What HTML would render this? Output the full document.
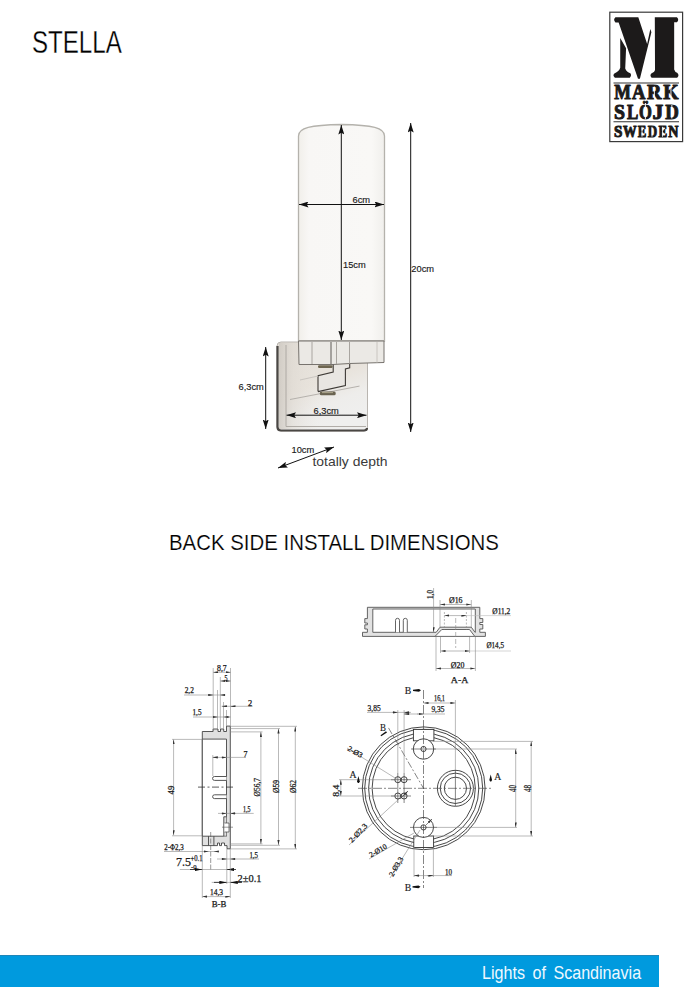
<!DOCTYPE html>
<html><head><meta charset="utf-8">
<style>
html,body{margin:0;padding:0;background:#fff;}
body{width:696px;height:1000px;position:relative;overflow:hidden;font-family:"Liberation Sans",sans-serif;}
.t{position:absolute;white-space:nowrap;line-height:1;transform-origin:0 0;}
#bar{position:absolute;left:0;top:955px;width:659px;height:32px;background:#009ade;border-top:1px solid #1f86b8;box-sizing:border-box;}
svg{position:absolute;left:0;top:0;}
</style></head><body>
<div class="t" id="title" style="left:32px;top:27px;font-size:30.5px;color:#000;transform:scaleX(0.79);-webkit-text-stroke:0.3px #fff;">STELLA</div>
<div class="t" id="back" style="left:169px;top:531px;font-size:22.8px;color:#000;transform:scaleX(0.895);-webkit-text-stroke:0.2px #fff;">BACK SIDE INSTALL DIMENSIONS</div>
<div id="bar"></div>
<div class="t" id="lights" style="left:482px;top:963.5px;font-size:18.5px;color:#eef8ff;transform:scaleX(0.87);word-spacing:3.5px;">Lights of Scandinavia</div>

<svg width="696" height="1000" viewBox="0 0 696 1000">

<defs>
<marker id="ah" viewBox="0 0 10 10" refX="10" refY="5" preserveAspectRatio="none" markerWidth="9.5" markerHeight="6" orient="auto-start-reverse" markerUnits="userSpaceOnUse"><path d="M0,0 L10,5 L0,10 L1.8,5 z" fill="#111"/></marker>
<linearGradient id="glass" x1="0" x2="1" y1="0" y2="0">
<stop offset="0" stop-color="#f1efea"/><stop offset="0.12" stop-color="#f8f7f5"/><stop offset="0.85" stop-color="#f9f8f6"/><stop offset="1" stop-color="#f0efec"/></linearGradient>
<linearGradient id="chrome" x1="0" x2="0.4" y1="0" y2="1">
<stop offset="0" stop-color="#e3ded7"/><stop offset="0.55" stop-color="#e8e3dc"/><stop offset="0.8" stop-color="#eeedeb"/><stop offset="1" stop-color="#efefee"/></linearGradient>
<linearGradient id="lshade" x1="0" x2="1" y1="0" y2="0">
<stop offset="0" stop-color="#cfcac3" stop-opacity="0.9"/><stop offset="0.35" stop-color="#ddd8d1" stop-opacity="0.5"/><stop offset="1" stop-color="#e8e4de" stop-opacity="0"/></linearGradient>
</defs>
<g id="lamp">
<!-- backplate -->
<path d="M281,342 L367.5,342 L367.5,427 Q367.5,431 364,431 L281,431 Q277,431 277,427 L277,346 Q277,342 281,342 z" fill="url(#chrome)" stroke="#b9b5b0" stroke-width="1"/>
<rect x="279" y="343" width="40" height="86" fill="url(#lshade)"/>
<path d="M277.5,346 L277.5,427 Q277.5,430.5 281,430.5 L364,430.5 Q367,430.5 367,428" fill="none" stroke="#4a4744" stroke-width="2.2"/>
<path d="M286,345 L286,426.5 L366,426.5" fill="none" stroke="#a9a59f" stroke-width="0.9"/>
<!-- glass -->
<path d="M298.5,341 L298.5,136 C298.5,128 310,125 341.5,124.5 C373,125 384.5,128 384.5,136 L384.5,341 z" fill="url(#glass)" stroke="#b4b2ac" stroke-width="1.3"/>
<!-- ring -->
<path d="M298.5,341 L384,341 L384,362.5 L349.5,363.5 L333,364.5 L299,364.5 z" fill="#ebe9e5" stroke="#77736e" stroke-width="1"/>
<g stroke="#a9a5a0" stroke-width="1"><line x1="312" y1="342" x2="312" y2="364"/><line x1="331" y1="342" x2="331" y2="364" stroke="#5e5a56"/><line x1="336.5" y1="342" x2="336.5" y2="364"/><line x1="349.5" y1="342" x2="349.5" y2="363"/><line x1="377" y1="342" x2="377" y2="362.5" stroke="#c9c5c0"/></g>
<!-- arm -->
<path d="M318,375.8 L333.2,372 L333.2,365 L349.7,365 L349.7,367.8 L345.4,369 L345.4,385.5 L318,391.6 z" fill="#e9e6e2"/>
<path d="M333.2,364.8 L333.2,372 L318,375.8 L318,391.6 M349.7,364 L349.7,367.8 L345.4,369 L345.4,385.5 L318,391.6" fill="none" stroke="#3e3a36" stroke-width="1.1"/>
<path d="M290,399.5 L359.5,386.1" fill="none" stroke="#b5b1ac" stroke-width="1"/>
<path d="M300,380 L318,376" fill="none" stroke="#c9c5c0" stroke-width="1"/>
<rect x="318" y="365.2" width="14.6" height="2.8" rx="1.2" fill="#6e6650"/>
<rect x="319.8" y="391.6" width="15.9" height="3.7" rx="1.5" fill="#6a6350"/>
<path d="M322,392.6 L333,392.6" stroke="#bdb59a" stroke-width="0.8"/>
</g>
<g id="dims" fill="none" stroke="#111" stroke-width="1">
<line x1="341.3" y1="125" x2="341.3" y2="340" marker-start="url(#ah)" marker-end="url(#ah)"/>
<line x1="299" y1="204.5" x2="384" y2="204.5" marker-start="url(#ah)" marker-end="url(#ah)"/>
<line x1="410.7" y1="123" x2="410.7" y2="432" marker-start="url(#ah)" marker-end="url(#ah)"/>
<line x1="265.7" y1="347" x2="265.7" y2="429" marker-start="url(#ah)" marker-end="url(#ah)"/>
<line x1="286.5" y1="415.2" x2="366.5" y2="415.2" marker-start="url(#ah)" marker-end="url(#ah)"/>
<line x1="278" y1="468" x2="334" y2="447" marker-start="url(#ah)" marker-end="url(#ah)"/>
</g>
<g font-family="Liberation Sans" fill="#1a1a1a" font-size="9.3" stroke="#1a1a1a" stroke-width="0.15">
<text x="352.5" y="203.3">6cm</text>
<text x="343" y="268.3">15cm</text>
<text x="411.3" y="272">20cm</text>
<text x="238.5" y="389.5">6,3cm</text>
<text x="313.5" y="413.5">6,3cm</text>
<text x="291.5" y="453.3">10cm</text>
<text x="312.5" y="466" font-size="13.3" fill="#3a3a3a" stroke="none" lengthAdjust="spacingAndGlyphs" textLength="75">totally depth</text>
</g>

<defs>
<marker id="ba" viewBox="0 0 10 10" refX="10" refY="5" preserveAspectRatio="none" markerWidth="7.5" markerHeight="3.2" orient="auto-start-reverse" markerUnits="userSpaceOnUse"><path d="M0,0 L10,5 L0,10 z" fill="#111"/></marker>
<marker id="sa" viewBox="0 0 10 10" refX="10" refY="5" preserveAspectRatio="none" markerWidth="5" markerHeight="2.2" orient="auto-start-reverse" markerUnits="userSpaceOnUse"><path d="M0,0 L10,5 L0,10 z" fill="#333"/></marker>
</defs>
<!-- ===== A-A section ===== -->
<g id="aa">
<g stroke="#555" stroke-width="0.9" fill="#e2e2e2">
<path d="M367.4,607.3 L479.8,607.3 L479.8,618.6 L482.8,618.6 L482.8,622.5 L479.8,622.5 L479.8,624.5 L482.8,624.5 L482.8,629 L479.8,629 L479.8,632.3 L485.4,632.3 L485.4,636.4 L474.8,636.4 L469.5,629.5 L441.8,629.5 L435,636.4 L362.5,636.4 L362.5,632.3 L367.4,632.3 L367.4,629 L364.8,629 L364.8,624.8 L367.4,624.8 L367.4,623 L364.8,623 L364.8,618.6 L367.4,618.6 z"/>
<path d="M372.8,609 L475.3,609 L475.3,632.3 L475,632.3 L471.3,627.2 L440,627.2 L436.2,632.3 L372.8,632.3 z" fill="#fff"/>
<path d="M435,636.4 L474.8,636.4" fill="none"/>
<path d="M395.5,632.3 L395.5,620.3 A2,2 0 0 1 399.5,620.3 L399.5,632.3 M403.3,632.3 L403.3,620.3 A2,2 0 0 1 407.3,620.3 L407.3,632.3" fill="#fff"/>
</g>
<g stroke="#8a8a8a" stroke-width="0.6" fill="none">
<line x1="440" y1="604.5" x2="471.3" y2="604.5" marker-start="url(#sa)" marker-end="url(#sa)"/>
<line x1="440" y1="600" x2="440" y2="627"/><line x1="471.3" y1="600" x2="471.3" y2="627"/>
<line x1="444.4" y1="615.6" x2="466.4" y2="615.6" marker-start="url(#sa)" marker-end="url(#sa)"/>
<line x1="466.4" y1="615.6" x2="511" y2="615.6" stroke="#bbb"/>
<line x1="444.4" y1="612" x2="444.4" y2="630" stroke-dasharray="2,1.5"/><line x1="466.4" y1="612" x2="466.4" y2="630" stroke-dasharray="2,1.5"/>
<line x1="455.7" y1="618" x2="455.7" y2="648" stroke-dasharray="5,2"/>
<line x1="440.5" y1="651" x2="469.6" y2="651" marker-start="url(#sa)" marker-end="url(#sa)"/>
<line x1="469.6" y1="651" x2="511" y2="651" stroke="#bbb"/>
<line x1="440.5" y1="637" x2="440.5" y2="653"/><line x1="469.6" y1="637" x2="469.6" y2="653"/>
<line x1="436" y1="668.5" x2="475.4" y2="668.5" marker-start="url(#sa)" marker-end="url(#sa)"/>
<line x1="436" y1="637" x2="436" y2="671"/><line x1="475.4" y1="637" x2="475.4" y2="671"/>
<line x1="433.6" y1="588" x2="433.6" y2="632.3" marker-end="url(#sa)"/>
</g>
<g font-family="Liberation Serif" fill="#1a1a1a" font-size="7.5" stroke="#1a1a1a" stroke-width="0.25">
<text transform="translate(432.5,599) rotate(-90)" lengthAdjust="spacingAndGlyphs" textLength="9">1,0</text>
<text x="449" y="603" lengthAdjust="spacingAndGlyphs" textLength="13.5">Ø16</text>
<text x="492.3" y="614" lengthAdjust="spacingAndGlyphs" textLength="18">Ø11,2</text>
<text x="486.4" y="648" lengthAdjust="spacingAndGlyphs" textLength="17.6">Ø14,5</text>
<text x="450.8" y="667.8" lengthAdjust="spacingAndGlyphs" textLength="13.6">Ø20</text>
<text x="450.8" y="682.9" font-size="8.5" lengthAdjust="spacingAndGlyphs" textLength="17.5">A-A</text>
</g>
</g>

<!-- ===== B-B section ===== -->
<g id="bb">
<g stroke="#444" stroke-width="0.9" fill="#e0e0e0">
<!-- outer body -->
<path d="M202.3,731.5 L213.1,731.5 L213.1,729 L218,729 L218,731.5 L220.5,731.5 L220.5,729 L223.7,729 L223.7,731.5 L226.5,731.5 L226.5,726.1 L230.3,726.1 L230.3,848.8 L227,848.8 L227,845.6 L224.5,845.6 L224.5,843 L221.5,843 L221.5,845.6 L219.5,845.6 L219.5,843 L217.5,843 L217.5,845.6 L202.3,845.6 z"/>
<!-- inner cavity -->
<path d="M202.3,739.1 L226.5,739.1 L226.5,816.8 L223.8,816.8 L223.8,836.2 L202.3,836.2 z" fill="#fff"/>
<path d="M226.5,816.8 L226.5,836 M223.8,836.2 L227,836.2" fill="none" stroke-width="0.6"/>
<path d="M208.5,836.2 L208.5,845.6 M213.9,836.2 L213.9,845.6" fill="none"/>
<path d="M224.5,823 L229,823 L229,832 L224.5,832" fill="#fff" stroke-width="0.7"/>
<!-- pins -->
<path d="M226.5,776.5 L214.5,776.5 A1.95,1.95 0 0 0 214.5,780.4 L226.5,780.4 M226.5,794.8 L214.5,794.8 A1.9,1.9 0 0 0 214.5,798.6 L226.5,798.6" fill="#fff"/>
</g>
<g stroke="#555" stroke-width="0.6" fill="none">
<line x1="198" y1="787.1" x2="234.6" y2="787.1" stroke-dasharray="7,2.5,2,2.5" stroke="#333" stroke-width="0.8"/>
<line x1="210.7" y1="832" x2="210.7" y2="871" stroke-dasharray="5,1.5"/>
<line x1="222" y1="827.2" x2="233" y2="827.2"/>
</g>
<g stroke="#8a8a8a" stroke-width="0.6" fill="none">
<!-- top ext lines -->
<line x1="213.2" y1="668" x2="213.2" y2="731"/><line x1="217.5" y1="690" x2="217.5" y2="729"/><line x1="220.3" y1="677" x2="220.3" y2="729"/>
<line x1="223.5" y1="702" x2="223.5" y2="729"/><line x1="226.5" y1="710" x2="226.5" y2="726"/><line x1="230.5" y1="668" x2="230.5" y2="726"/>
<line x1="213.2" y1="672.3" x2="230.6" y2="672.3" marker-start="url(#sa)" marker-end="url(#sa)"/>
<line x1="220.3" y1="681" x2="230.6" y2="681" marker-start="url(#sa)" marker-end="url(#sa)"/>
<line x1="184" y1="695" x2="225.5" y2="695"/>
<line x1="209" y1="695" x2="213.2" y2="695" marker-end="url(#sa)"/><line x1="225" y1="695" x2="220.3" y2="695" marker-end="url(#sa)"/>
<line x1="221.6" y1="706.3" x2="252.6" y2="706.3"/>
<line x1="222" y1="706.3" x2="226.5" y2="706.3" marker-start="url(#sa)"/><line x1="235" y1="706.3" x2="230.5" y2="706.3" marker-end="url(#sa)"/>
<line x1="193" y1="717" x2="230.6" y2="717"/>
<line x1="213" y1="717" x2="217.5" y2="717" marker-end="url(#sa)"/><line x1="230" y1="717" x2="223.5" y2="717" marker-end="url(#sa)"/>
<!-- 7 -->
<line x1="212.8" y1="757.4" x2="246" y2="757.4"/>
<line x1="218" y1="757.4" x2="212.8" y2="757.4" marker-end="url(#sa)"/><line x1="221" y1="757.4" x2="226.5" y2="757.4" marker-end="url(#sa)"/>
<line x1="212.8" y1="755" x2="212.8" y2="776"/>
<!-- 49 -->
<line x1="173.6" y1="739.4" x2="173.6" y2="835.3" marker-start="url(#sa)" marker-end="url(#sa)"/>
<line x1="172" y1="739.4" x2="202" y2="739.4"/><line x1="172" y1="835.8" x2="202" y2="835.8"/>
<!-- 1,5 mid -->
<line x1="218" y1="813.4" x2="253.7" y2="813.4"/>
<line x1="221" y1="813.4" x2="226.5" y2="813.4" marker-end="url(#sa)"/><line x1="236" y1="813.4" x2="230.3" y2="813.4" marker-end="url(#sa)"/>
<!-- diameters -->
<line x1="260.9" y1="731.9" x2="260.9" y2="843.9" marker-start="url(#sa)" marker-end="url(#sa)"/>
<line x1="278.5" y1="728.6" x2="278.5" y2="845" marker-start="url(#sa)" marker-end="url(#sa)"/>
<line x1="295.3" y1="726.5" x2="295.3" y2="848.9" marker-start="url(#sa)" marker-end="url(#sa)"/>
<line x1="230.3" y1="726.3" x2="297" y2="726.3"/><line x1="230.3" y1="728.6" x2="280" y2="728.6"/><line x1="230.3" y1="731.9" x2="262.5" y2="731.9"/>
<line x1="230.3" y1="843.9" x2="262.5" y2="843.9"/><line x1="230.3" y1="845.3" x2="280" y2="845.3"/><line x1="230.3" y1="848.9" x2="297" y2="848.9"/>
<!-- bottom -->
<line x1="164" y1="851.5" x2="218" y2="851.5"/>
<line x1="204" y1="851.5" x2="208.5" y2="851.5" marker-end="url(#sa)"/><line x1="218" y1="851.5" x2="213.9" y2="851.5" marker-end="url(#sa)"/>
<line x1="217" y1="859" x2="259" y2="859"/>
<line x1="221" y1="859" x2="226.8" y2="859" marker-end="url(#sa)"/><line x1="236" y1="859" x2="230.3" y2="859" marker-end="url(#sa)"/>
<line x1="179.8" y1="869.5" x2="234" y2="869.5"/>
<line x1="190" y1="869.5" x2="202.3" y2="869.5" marker-end="url(#ba)" stroke="#222" stroke-width="0.8"/><line x1="236" y1="869.5" x2="226.8" y2="869.5" marker-end="url(#ba)" stroke="#222" stroke-width="0.8"/>
<line x1="211.7" y1="882.4" x2="241" y2="882.4"/>
<line x1="214" y1="882.4" x2="226.8" y2="882.4" marker-end="url(#ba)" stroke="#222" stroke-width="0.8"/><line x1="242" y1="882.4" x2="230.3" y2="882.4" marker-end="url(#ba)" stroke="#222" stroke-width="0.8"/>
<line x1="202.3" y1="896.6" x2="230.3" y2="896.6" marker-start="url(#sa)" marker-end="url(#sa)"/>
<line x1="202.3" y1="846" x2="202.3" y2="898"/><line x1="226.8" y1="849" x2="226.8" y2="884"/><line x1="230.3" y1="849" x2="230.3" y2="898"/>
</g>
<g font-family="Liberation Serif" fill="#1a1a1a" font-size="7.5" stroke="#1a1a1a" stroke-width="0.25">
<text x="217" y="671" lengthAdjust="spacingAndGlyphs" textLength="9.7">8,7</text>
<text x="224.6" y="680.7" lengthAdjust="spacingAndGlyphs" textLength="3">5</text>
<text x="184.7" y="693.4" lengthAdjust="spacingAndGlyphs" textLength="9.2">2,2</text>
<text x="248" y="706" lengthAdjust="spacingAndGlyphs" textLength="4.2">2</text>
<text x="192.5" y="715.4" lengthAdjust="spacingAndGlyphs" textLength="9">1,5</text>
<text x="243.5" y="756.6" lengthAdjust="spacingAndGlyphs" textLength="4">7</text>
<text transform="translate(173.5,794.4) rotate(-90)" lengthAdjust="spacingAndGlyphs" textLength="8.7">49</text>
<text x="243" y="811.6" lengthAdjust="spacingAndGlyphs" textLength="7.5">1,5</text>
<text transform="translate(259.8,796.5) rotate(-90)" lengthAdjust="spacingAndGlyphs" textLength="18.5">Ø56,7</text>
<text transform="translate(278.5,793) rotate(-90)" lengthAdjust="spacingAndGlyphs" textLength="13">Ø59</text>
<text transform="translate(295.5,793) rotate(-90)" lengthAdjust="spacingAndGlyphs" textLength="13">Ø62</text>
<text x="164.3" y="850.4" lengthAdjust="spacingAndGlyphs" textLength="19.4">2-Φ2,3</text>
<text x="249.4" y="858" lengthAdjust="spacingAndGlyphs" textLength="8.6">1,5</text>
<text x="176" y="866" font-size="12" lengthAdjust="spacingAndGlyphs" textLength="15">7.5</text>
<text x="190.5" y="861" font-size="7.5" lengthAdjust="spacingAndGlyphs" textLength="12">+0.1</text>
<text x="191" y="868.7" font-size="7" lengthAdjust="spacingAndGlyphs" textLength="5.5">-0</text>
<text x="237.6" y="882" font-size="11" lengthAdjust="spacingAndGlyphs" textLength="24">2±0.1</text>
<text x="210" y="894.8" lengthAdjust="spacingAndGlyphs" textLength="13">14,3</text>
<text x="211.7" y="906.9" font-size="8.5" lengthAdjust="spacingAndGlyphs" textLength="14.7">B-B</text>
</g>
</g>

<!-- ===== Circle view ===== -->
<g id="cv">
<g stroke="#333" stroke-width="0.9" fill="none">
<circle cx="423.7" cy="788.3" r="61.4"/>
<circle cx="423.7" cy="788.3" r="59"/>
<circle cx="423.7" cy="788.3" r="55.1"/>
<circle cx="423.7" cy="788.3" r="51.6"/>
<rect x="413.4" y="729.4" width="20.5" height="11.4" fill="#fff"/>
<rect x="413.8" y="836" width="19.8" height="11.5" fill="#fff"/>
<circle cx="423.5" cy="749" r="10.2" fill="#fff"/>
<circle cx="423.5" cy="749" r="2.6"/>
<circle cx="423.5" cy="827.4" r="10" fill="#fff"/>
<circle cx="423.5" cy="827.4" r="2.6"/>
<circle cx="455.4" cy="788.3" r="18"/>
<circle cx="455.4" cy="788.3" r="15.2"/>
<circle cx="455.4" cy="788.3" r="11.1"/>
<circle cx="397.8" cy="779.7" r="3"/><circle cx="404.1" cy="779.7" r="3"/>
<circle cx="397.8" cy="796" r="3"/><circle cx="404.1" cy="796" r="3"/>
</g>
<g stroke="#333" stroke-width="0.6" fill="none">
<line x1="358" y1="788.3" x2="491.3" y2="788.3" stroke-dasharray="9,2,2,2"/>
<line x1="423.5" y1="690" x2="423.5" y2="888" stroke-dasharray="9,2,2,2"/>
<line x1="388.5" y1="727.9" x2="423.5" y2="788.3" stroke-dasharray="7,2,2,2"/>
<line x1="391" y1="779.7" x2="411" y2="779.7"/><line x1="391" y1="796" x2="411" y2="796"/>
<line x1="397.8" y1="773" x2="397.8" y2="803"/><line x1="404.1" y1="773" x2="404.1" y2="803"/>
<line x1="411" y1="749" x2="436" y2="749"/><line x1="410" y1="827.4" x2="437" y2="827.4"/>
<line x1="455.4" y1="770" x2="455.4" y2="806"/>
</g>
<g stroke="#8a8a8a" stroke-width="0.6" fill="none">
<line x1="367" y1="712.4" x2="411" y2="712.4"/>
<line x1="392" y1="712.4" x2="397.8" y2="712.4" marker-end="url(#sa)"/><line x1="410" y1="712.4" x2="404.1" y2="712.4" marker-end="url(#sa)"/>
<line x1="397.8" y1="710" x2="397.8" y2="773"/><line x1="404.1" y1="710" x2="404.1" y2="773"/>
<line x1="404.1" y1="714" x2="445" y2="714"/>
<line x1="410" y1="714" x2="404.1" y2="714" marker-end="url(#sa)"/><line x1="417" y1="714" x2="423.5" y2="714" marker-end="url(#sa)"/>
<line x1="423.5" y1="703" x2="455.4" y2="703" marker-start="url(#sa)" marker-end="url(#sa)"/>
<line x1="455.4" y1="700" x2="455.4" y2="770"/>
<line x1="515.7" y1="749" x2="515.7" y2="827.4" marker-start="url(#sa)" marker-end="url(#sa)"/>
<line x1="531.2" y1="741.4" x2="531.2" y2="836" marker-start="url(#sa)" marker-end="url(#sa)"/>
<line x1="434" y1="749" x2="517" y2="749"/><line x1="434" y1="827.4" x2="517" y2="827.4"/>
<line x1="433" y1="741.4" x2="533" y2="741.4"/><line x1="433" y1="836" x2="533" y2="836"/>
<line x1="340.8" y1="779.7" x2="340.8" y2="796" marker-start="url(#sa)" marker-end="url(#sa)"/>
<line x1="339" y1="779.7" x2="395" y2="779.7"/><line x1="339" y1="796" x2="395" y2="796"/>
<line x1="414" y1="875.6" x2="452" y2="875.6"/>
<line x1="420" y1="875.6" x2="414" y2="875.6" marker-end="url(#sa)"/><line x1="427" y1="875.6" x2="433.4" y2="875.6" marker-end="url(#sa)"/>
<line x1="414" y1="847" x2="414" y2="877"/><line x1="433.4" y1="847" x2="433.4" y2="877"/>
<!-- leaders -->
<line x1="347" y1="748" x2="397.8" y2="779.7"/>
<line x1="349" y1="845" x2="399" y2="799"/>
<line x1="369" y1="859" x2="414" y2="833"/>
<line x1="390" y1="878" x2="420" y2="830"/>
<line x1="426" y1="825" x2="432" y2="819" stroke="#333" marker-end="url(#sa)"/>
<line x1="400" y1="799" x2="408" y2="791" stroke="#333" marker-end="url(#sa)"/>
</g>
<g fill="#111">
<path d="M413,689.8 L419,689 L421,690.3 L419,691.8 L413,691 z"/>
<path d="M412.5,886.3 L418.5,885.5 L420.5,886.8 L418.5,888.3 L412.5,887.5 z"/>
<path d="M358.4,776 L359.8,781.5 L358.9,783 L357.9,783 L357,781.5 z"/>
<path d="M490.7,774.5 L492.1,780 L491.2,781.5 L490.2,781.5 L489.3,780 z"/>
<path d="M380.5,735.3 L386,731.2 L387,732.5 L381.2,736.2 z"/>
</g>
<g font-family="Liberation Serif" fill="#1a1a1a" font-size="7.5" stroke="#1a1a1a" stroke-width="0.25">
<text x="404.7" y="694" font-size="10" stroke-width="0.15" lengthAdjust="spacingAndGlyphs" textLength="6.5">B</text>
<text x="404.7" y="890.6" font-size="10" stroke-width="0.15" lengthAdjust="spacingAndGlyphs" textLength="6.5">B</text>
<text x="349.5" y="778.3" font-size="9.5" stroke-width="0.15" lengthAdjust="spacingAndGlyphs" textLength="7">A</text>
<text x="494.3" y="779.5" font-size="9.5" stroke-width="0.15" lengthAdjust="spacingAndGlyphs" textLength="7">A</text>
<text x="380" y="730.5" font-size="10" stroke-width="0.15" lengthAdjust="spacingAndGlyphs" textLength="6">B</text>
<text x="367.6" y="710.7" lengthAdjust="spacingAndGlyphs" textLength="13">3,85</text>
<text x="431.4" y="712.4" lengthAdjust="spacingAndGlyphs" textLength="13">9,35</text>
<text x="434" y="701.3" lengthAdjust="spacingAndGlyphs" textLength="11">16,1</text>
<text x="444.9" y="874.9" lengthAdjust="spacingAndGlyphs" textLength="7">10</text>
<text transform="translate(515.6,792) rotate(-90)" font-size="9.5" lengthAdjust="spacingAndGlyphs" textLength="7.2">40</text>
<text transform="translate(531.1,792) rotate(-90)" font-size="9.5" lengthAdjust="spacingAndGlyphs" textLength="7.2">48</text>
<text transform="translate(338.5,796.7) rotate(-90)" lengthAdjust="spacingAndGlyphs" textLength="12">8,4</text>
<text transform="translate(347,750) rotate(30)" lengthAdjust="spacingAndGlyphs" textLength="16">2-Ø3</text>
<text transform="translate(352,843) rotate(-47)" lengthAdjust="spacingAndGlyphs" textLength="23">2-Ø2,3</text>
<text transform="translate(371,857.5) rotate(-30)" lengthAdjust="spacingAndGlyphs" textLength="19">2-Ø10</text>
<text transform="translate(393,877) rotate(-60)" lengthAdjust="spacingAndGlyphs" textLength="21">2-Ø3,3</text>
</g>
</g>

<!-- ===== Logo ===== -->
<g id="logo">
<rect x="609.8" y="12.2" width="72.8" height="129.4" fill="#fff" stroke="#3a3a3a" stroke-width="1.2"/>
<g transform="translate(608,12) scale(0.10638)" fill="#1c1a1a">
<path d="M70,50 L285,50 L368,300 L398,160 L408,190 L300,628 L282,628 L100,98 L70,98 Q45,74 70,50 z"/>
<path d="M115,245 L170,340 L162,530 Q175,565 210,575 Q225,595 205,618 L65,618 Q40,595 60,578 Q105,560 115,525 z"/>
<path d="M440,50 L648,50 Q672,73 648,96 L622,96 L622,540 Q630,565 650,572 Q675,595 650,618 L410,618 Q388,595 410,575 Q440,565 442,540 z"/>
</g>
<line x1="613.5" y1="83" x2="679" y2="83" stroke="#333" stroke-width="1.1"/>
<line x1="613.5" y1="121.8" x2="679" y2="121.8" stroke="#333" stroke-width="1.1"/>
<g font-family="Liberation Serif" font-weight="bold" fill="#1c1a1a" stroke="#1c1a1a" stroke-width="1" stroke-linejoin="round">
<text x="614.2" y="99.3" font-size="20.5" lengthAdjust="spacingAndGlyphs" textLength="16.7">M</text>
<text x="632.1" y="99.3" font-size="20.5" lengthAdjust="spacingAndGlyphs" textLength="13.4">A</text>
<text x="647.1" y="99.3" font-size="20.5" lengthAdjust="spacingAndGlyphs" textLength="14.5">R</text>
<text x="663.2" y="99.3" font-size="20.5" lengthAdjust="spacingAndGlyphs" textLength="15.3">K</text>
<text x="614.0" y="119.1" font-size="20.5" lengthAdjust="spacingAndGlyphs" textLength="11.0">S</text>
<text x="626.9" y="119.1" font-size="20.5" lengthAdjust="spacingAndGlyphs" textLength="11.3">L</text>
<text x="638.9" y="119.1" font-size="20.5" lengthAdjust="spacingAndGlyphs" textLength="12.9">Ö</text>
<text x="652.5" y="119.1" font-size="20.5" lengthAdjust="spacingAndGlyphs" textLength="10.8">J</text>
<text x="665.2" y="119.1" font-size="20.5" lengthAdjust="spacingAndGlyphs" textLength="13.6">D</text>
<text x="614.0" y="136.9" font-size="16.6" lengthAdjust="spacingAndGlyphs" textLength="8.4">S</text>
<text x="623.0" y="136.9" font-size="16.6" lengthAdjust="spacingAndGlyphs" textLength="13.6">W</text>
<text x="637.8" y="136.9" font-size="16.6" lengthAdjust="spacingAndGlyphs" textLength="8.6">E</text>
<text x="647.8" y="136.9" font-size="16.6" lengthAdjust="spacingAndGlyphs" textLength="9.4">D</text>
<text x="658.4" y="136.9" font-size="16.6" lengthAdjust="spacingAndGlyphs" textLength="8.7">E</text>
<text x="668.2" y="136.9" font-size="16.6" lengthAdjust="spacingAndGlyphs" textLength="10.2">N</text>
</g>
<g fill="#fff">
<rect x="653.9" y="86.5" width="0.9" height="13"/>
<rect x="670.5" y="86.5" width="0.9" height="13"/>
<rect x="671.4" y="105" width="0.9" height="13.5"/>
<rect x="644.9" y="103" width="0.9" height="16.5"/>
<rect x="641.6" y="126.8" width="0.8" height="10"/>
<rect x="651.6" y="126.8" width="0.8" height="10"/>
<rect x="662.2" y="126.8" width="0.8" height="10"/>
</g>
</g>
</svg>
</body></html>
